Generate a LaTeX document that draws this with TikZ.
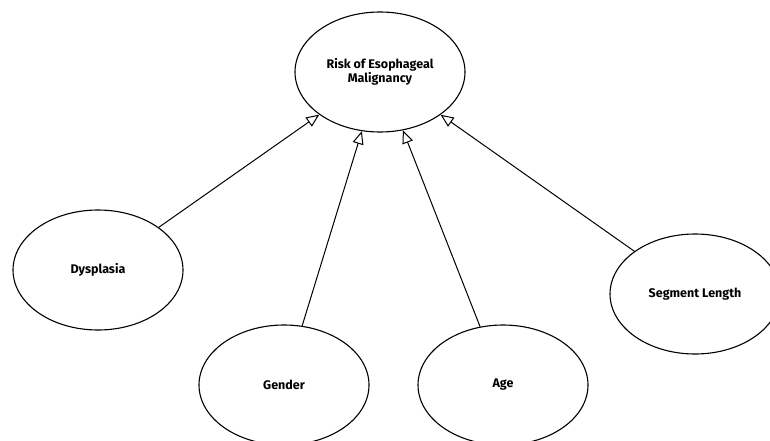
\documentclass[tikz,border=0pt]{standalone}
\usepackage{fontspec}
\setmainfont{Fira Sans}
\usetikzlibrary{shapes.geometric,arrows.meta}
\begin{document}
\begin{tikzpicture}[x=1pt,y=-1pt,
  factor/.style={ellipse,draw,line width=1.1pt,minimum width=170pt,minimum height=120pt,inner sep=0pt,font=\fontsize{12.5}{14}\selectfont\bfseries,align=center,fill=white},
  link/.style={line width=1pt,-{Triangle[open,length=13pt,width=11pt,line width=1pt]}}]
\useasboundingbox (0,0) rectangle (770,441);
\node[factor] (risk) at (380,72) {Risk of Esophageal\\Malignancy};
\node[factor] (dys) at (98,270) {Dysplasia};
\node[factor] (gen) at (284,385) {Gender};
\node[factor] (age) at (503,385) {Age};
\node[factor] (seg) at (695,294) {Segment Length};
\draw[link] (dys) -- (risk);
\draw[link] (gen) -- (risk);
\draw[link] (age) -- (risk);
\draw[link] (seg) -- (risk);
\end{tikzpicture}
\end{document}
